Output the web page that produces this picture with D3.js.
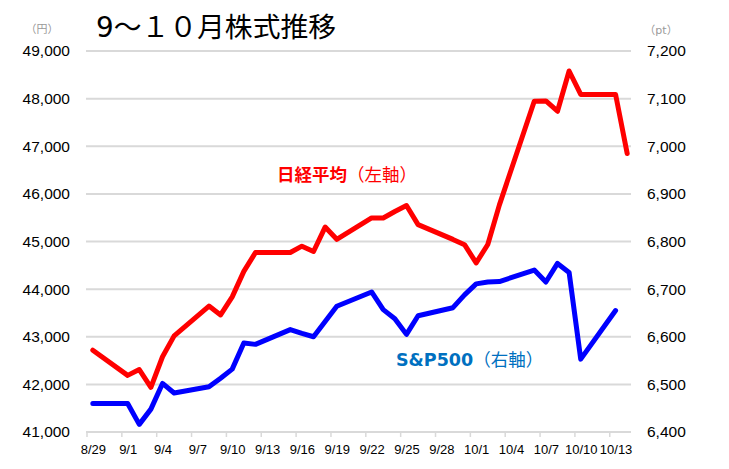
<!DOCTYPE html>
<html>
<head>
<meta charset="utf-8">
<script src="https://cdn.jsdelivr.net/npm/d3@7"></script>
<style>
  html, body { margin: 0; padding: 0; background: #fff; }
  svg { display: block; }
  .num { font-family: "Liberation Sans", Arial, sans-serif; fill: #000; }
  .jp { font-family: "DejaVu Sans", "Noto Sans CJK JP", sans-serif; }
</style>
</head>
<body>
<svg id="chart" width="729" height="469"></svg>
<script>
  const tickLabels = ["8/29", "9/1", "9/4", "9/7", "9/10", "9/13", "9/16", "9/19", "9/22", "9/25", "9/28", "10/1", "10/4", "10/7", "10/10", "10/13"];

  const nikkeiDays = ["8/29", "9/1", "9/2", "9/3", "9/4", "9/5", "9/8", "9/9", "9/10", "9/11", "9/12", "9/15", "9/16", "9/17", "9/18", "9/19",
    "9/22", "9/23", "9/24", "9/25", "9/26", "9/29", "9/30", "10/1", "10/2", "10/3", "10/6", "10/7", "10/8", "10/9", "10/10", "10/13", "10/14"];
  const nikkeiValues = [42718, 42189, 42310, 41939, 42580, 43019, 43644, 43459, 43838, 44373, 44768, 44768, 44902, 44790, 45303, 45046,
    45494, 45494, 45630, 45755, 45355, 45044, 44933, 44551, 44937, 45770, 47945, 47951, 47735, 48580, 48089, 48089, 46847];

  const spDays = ["8/29", "9/1", "9/2", "9/3", "9/4", "9/5", "9/8", "9/9", "9/10", "9/11", "9/12", "9/15", "9/16", "9/17", "9/18", "9/19",
    "9/22", "9/23", "9/24", "9/25", "9/26", "9/29", "9/30", "10/1", "10/2", "10/3", "10/6", "10/7", "10/8", "10/9", "10/10", "10/13"];
  const spValues = [6460, 6460, 6416, 6448, 6502, 6482, 6495, 6513, 6532, 6587, 6584, 6615, 6607, 6600, 6632, 6664,
    6694, 6657, 6638, 6605, 6644, 6661, 6688, 6711, 6715, 6716, 6740, 6715, 6754, 6735, 6553, 6655];

  const leftDomain = [41000, 49000];
  const rightDomain = [6400, 7200];

  (function () {
    function toDate(label) {
      const [m, d] = label.split("/").map(Number);
      return new Date(2025, m - 1, d);
    }
    const halfDay = 12 * 3600 * 1000;

    const svg = d3.select("#chart");
    const plotLeft = 87, plotRight = 633, plotTop = 51, plotBottom = 432;

    const x = d3.scaleTime()
      .domain([new Date(toDate("8/29") - halfDay), new Date(+toDate("10/14") + halfDay)])
      .range([plotLeft, plotRight]);
    const yL = d3.scaleLinear().domain(leftDomain).range([plotBottom, plotTop]);
    const yR = d3.scaleLinear().domain(rightDomain).range([plotBottom, plotTop]);

    // horizontal grid
    svg.append("g")
      .selectAll("line")
      .data(yL.ticks(8))
      .join("line")
      .attr("x1", plotLeft - 1)
      .attr("x2", plotRight - 2)
      .attr("y1", (d) => yL(d))
      .attr("y2", (d) => yL(d))
      .attr("stroke", "#d9d9d9")
      .attr("stroke-width", 2);

    // x tick marks sit between day slots
    const tickDates = tickLabels.map(toDate);
    svg.append("g")
      .selectAll("line")
      .data(tickDates)
      .join("line")
      .attr("x1", (d) => x(new Date(d - halfDay)))
      .attr("x2", (d) => x(new Date(d - halfDay)))
      .attr("y1", plotBottom)
      .attr("y2", plotBottom + 5)
      .attr("stroke", "#d9d9d9")
      .attr("stroke-width", 1.5);

    const xAxis = svg.append("g")
      .attr("transform", `translate(0,${plotBottom})`)
      .call(d3.axisBottom(x).tickValues(tickDates).tickFormat((d, i) => tickLabels[i]).tickSize(0).tickPadding(13));
    xAxis.select(".domain").remove();
    xAxis.selectAll("text").attr("class", "num").style("font-size", "13px").attr("fill", "#000");

    const lAxis = svg.append("g")
      .attr("transform", "translate(70,0)")
      .call(d3.axisLeft(yL).ticks(8).tickFormat(d3.format(",")).tickSize(0).tickPadding(0));
    lAxis.select(".domain").remove();
    lAxis.selectAll("text").attr("class", "num").style("font-size", "15.5px").attr("fill", "#000");

    const rAxis = svg.append("g")
      .attr("transform", "translate(647,0)")
      .call(d3.axisRight(yR).ticks(8).tickFormat(d3.format(",")).tickSize(0).tickPadding(0));
    rAxis.select(".domain").remove();
    rAxis.selectAll("text").attr("class", "num").style("font-size", "15.5px").attr("fill", "#000");

    // unit labels
    svg.append("text").attr("class", "jp").attr("x", 42).attr("y", 33).attr("text-anchor", "middle")
      .attr("fill", "#999").style("font-size", "11px").text("（円）");
    svg.append("text").attr("class", "jp").attr("x", 661).attr("y", 34).attr("text-anchor", "middle")
      .attr("fill", "#999").style("font-size", "11px").text("（pt）");

    // title
    svg.append("text").attr("class", "jp").attr("x", 96).attr("y", 37)
      .attr("fill", "#000").style("font-size", "27.8px").text("9～１０月株式推移");

    const lineL = d3.line().x((d) => x(d.date)).y((d) => yL(d.value));
    const lineR = d3.line().x((d) => x(d.date)).y((d) => yR(d.value));

    const spData = spDays.map((d, i) => ({ date: toDate(d), value: spValues[i] }));
    const nikkeiData = nikkeiDays.map((d, i) => ({ date: toDate(d), value: nikkeiValues[i] }));

    svg.append("path")
      .datum(spData)
      .attr("d", lineR)
      .attr("fill", "none")
      .attr("stroke", "#0000ff")
      .attr("stroke-width", 5)
      .attr("stroke-linejoin", "round")
      .attr("stroke-linecap", "round");

    svg.append("path")
      .datum(nikkeiData)
      .attr("d", lineL)
      .attr("fill", "none")
      .attr("stroke", "#ff0000")
      .attr("stroke-width", 5)
      .attr("stroke-linejoin", "round")
      .attr("stroke-linecap", "round");

    // series labels
    const redLabel = svg.append("text").attr("class", "jp").attr("x", 277).attr("y", 181)
      .attr("fill", "#ff0000").style("font-size", "17.5px");
    redLabel.append("tspan").attr("font-weight", "bold").text("日経平均");
    redLabel.append("tspan").text("（左軸）");

    const blueLabel = svg.append("text").attr("class", "jp").attr("x", 396).attr("y", 366)
      .attr("fill", "#0070c0").style("font-size", "17.5px");
    blueLabel.append("tspan").attr("font-weight", "bold").text("S&P500");
    blueLabel.append("tspan").text("（右軸）");
  })();
</script>
</body>
</html>
